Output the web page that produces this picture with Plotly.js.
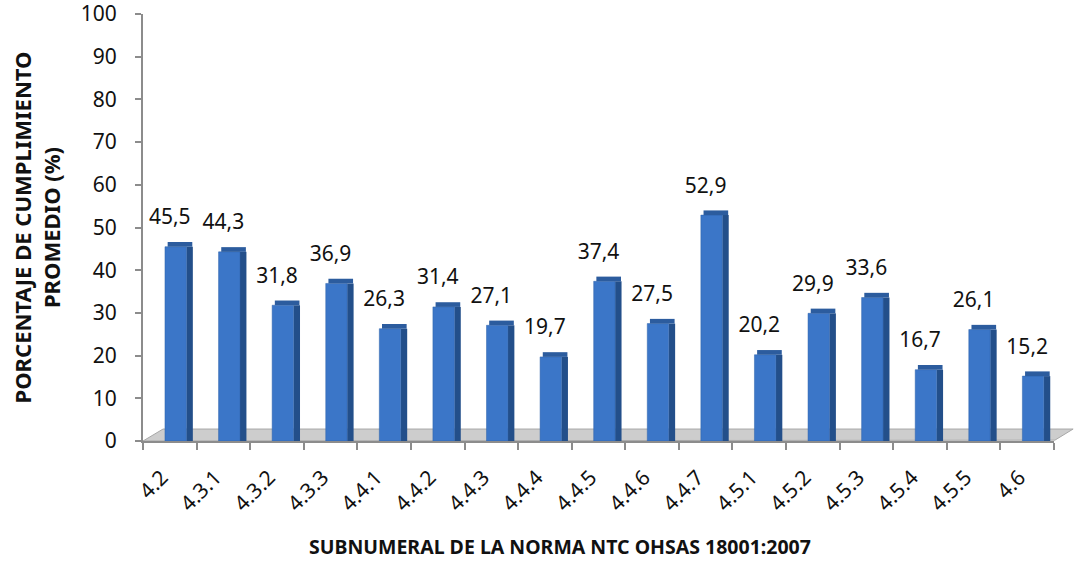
<!DOCTYPE html>
<html>
<head>
<meta charset="utf-8">
<script src="https://cdn.plot.ly/plotly-3.0.1.min.js"></script>
<style>html,body{margin:0;padding:0;background:#fff;}#chart{width:1074px;height:564px;}</style>
</head>
<body>
<div id="chart"></div>
<script>
const categories = ["4.2","4.3.1","4.3.2","4.3.3","4.4.1","4.4.2","4.4.3","4.4.4","4.4.5","4.4.6","4.4.7","4.5.1","4.5.2","4.5.3","4.5.4","4.5.5","4.6"];
const values = [45.5,44.3,31.8,36.9,26.3,31.4,27.1,19.7,37.4,27.5,52.9,20.2,29.9,33.6,16.7,26.1,15.2];
const yTicks = [0,10,20,30,40,50,60,70,80,90,100];
const xTitle = 'SUBNUMERAL DE LA NORMA NTC OHSAS 18001:2007';
const yTitle = 'PORCENTAJE DE CUMPLIMIENTO<br>PROMEDIO (%)';

const FONT = "'Noto Sans', 'DejaVu Sans', sans-serif";
const bevel = 1.1;

const frontFace = {
  type: 'bar', x: categories, y: values,
  width: 0.40, offset: -0.09,
  marker: {color: '#3b76c8', line: {color: '#2f62aa', width: 0.5}},
  hoverinfo: 'skip'
};
const sideFace = {
  type: 'bar', x: categories, y: values,
  width: 0.12, offset: 0.31,
  marker: {color: '#234f8a', line: {width: 0}},
  hoverinfo: 'skip'
};
const topFace = {
  type: 'bar', x: categories, y: values.map(() => bevel), base: values,
  width: 0.46, offset: -0.04,
  marker: {color: '#2c5c9e', line: {width: 0}},
  hoverinfo: 'skip'
};
const valueLabels = {
  type: 'scatter', mode: 'markers+text', x: categories, y: values,
  text: values.map(v => v.toFixed(1).replace('.', ',')),
  textposition: 'top center',
  textfont: {family: FONT, size: 21, color: '#111'},
  marker: {size: 26, opacity: 0},
  hoverinfo: 'skip', cliponaxis: false
};

const layout = {
  width: 1074, height: 564,
  margin: {l: 143, r: 20, t: 14, b: 123},
  paper_bgcolor: '#fff', plot_bgcolor: 'rgba(0,0,0,0)',
  showlegend: false,
  barmode: 'overlay',
  font: {family: FONT, color: '#111'},
  xaxis: {
    type: 'category',
    range: [-0.5, 16.5],
    tickson: 'boundaries',
    ticks: 'outside', ticklen: 7, tickcolor: '#8c8c8c', tickwidth: 2,
    showline: true, linecolor: '#8c8c8c', linewidth: 2,
    showgrid: false, zeroline: false,
    tickangle: -45,
    ticklabelstandoff: 14, ticklabelshift: -8,
    tickfont: {family: FONT, size: 21, color: '#111'}
  },
  yaxis: {
    range: [0, 100.001], tickvals: yTicks,
    ticks: 'outside', ticklen: 6, tickcolor: '#8c8c8c', tickwidth: 2,
    showline: true, linecolor: '#8c8c8c', linewidth: 2,
    showgrid: false, zeroline: false,
    ticklabeloverflow: 'allow',
    ticklabelstandoff: 14,
    tickfont: {family: FONT, size: 21, color: '#111'},
    title: {text: '<b>' + yTitle + '</b>', font: {family: FONT, size: 22, color: '#111'}, standoff: 14}
  },
  annotations: [{
    text: '<b>' + xTitle + '</b>', xref: 'paper', yref: 'paper',
    x: 0.458, y: -0.246, xanchor: 'center', yanchor: 'middle',
    showarrow: false, borderpad: 0, font: {family: FONT, size: 19.5, color: '#111'}
  }],
  shapes: [{
    type: 'path', xref: 'paper', yref: 'paper', layer: 'below',
    path: 'M 0 0 L 1.001 0.002 L 1.021 0.028 L 0.022 0.028 Z',
    fillcolor: '#cdcdcd', line: {color: '#a8a8a8', width: 1}
  }]
};

Plotly.newPlot('chart', [sideFace, frontFace, topFace, valueLabels], layout, {displayModeBar: false, staticPlot: true});
</script>
</body>
</html>
